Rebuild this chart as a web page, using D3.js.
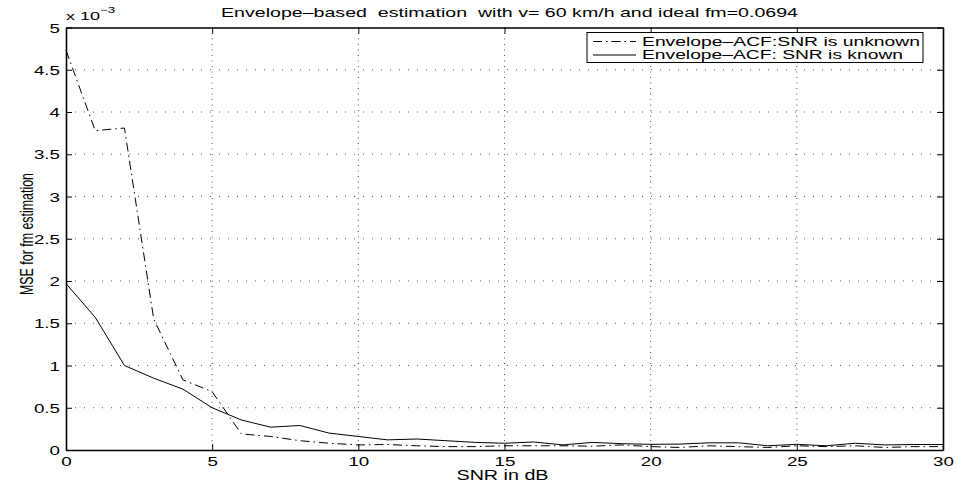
<!DOCTYPE html>
<html>
<head>
<meta charset="utf-8">
<script src="https://cdn.jsdelivr.net/npm/d3@7"></script>
<style>
  html, body { margin: 0; padding: 0; background: #fff; }
  svg { display: block; font-family: "Liberation Sans", Arial, Helvetica, sans-serif; }
  text { white-space: pre; }
</style>
</head>
<body>
<svg id="chart" width="959" height="487"></svg>
<script>
// SNR values (dB)
const snr = d3.range(0, 31);

// MSE of fm estimate (x 10^-3), SNR unknown
const mseUnknown = [4.73, 3.78, 3.81, 1.55, 0.83, 0.69, 0.19, 0.16, 0.11, 0.08, 0.06,
                    0.065, 0.05, 0.04, 0.04, 0.05, 0.05, 0.05, 0.045, 0.06, 0.04,
                    0.03, 0.05, 0.04, 0.03, 0.05, 0.04, 0.05, 0.03, 0.04, 0.04];

// MSE of fm estimate (x 10^-3), SNR known
const mseKnown = [1.97, 1.57, 1.00, 0.85, 0.72, 0.50, 0.355, 0.27, 0.29, 0.20, 0.16,
                  0.12, 0.13, 0.11, 0.09, 0.08, 0.095, 0.06, 0.09, 0.075, 0.067,
                  0.07, 0.085, 0.085, 0.05, 0.067, 0.05, 0.08, 0.06, 0.065, 0.065];

const xTicks = [0, 5, 10, 15, 20, 25, 30];
const yTicks = [0, 0.5, 1, 1.5, 2, 2.5, 3, 3.5, 4, 4.5, 5];

const titleText = "Envelope\u2013based  estimation  with v= 60 km/h and ideal fm=0.0694";
const xLabel = "SNR in dB";
const yLabel = "MSE for fm estimation";
const legendLabels = ["Envelope\u2013ACF:SNR is unknown", "Envelope\u2013ACF: SNR is known"];

const svg = d3.select("#chart");
const L = 66, R = 943, T = 27.5, B = 450;

const x = d3.scaleLinear().domain([0, 30]).range([L, R]);
const y = d3.scaleLinear().domain([0, 5]).range([B, T]);

// widen horizontal text to the wide glyph style of the figure
function widen(sel, k) {
  sel.each(function () {
    const w = this.getComputedTextLength();
    d3.select(this).attr("textLength", w * k).attr("lengthAdjust", "spacingAndGlyphs");
  });
}

// grid
const grid = svg.append("g");
grid.selectAll("line.vg").data(xTicks.slice(1, -1)).enter().append("line")
  .attr("x1", d => x(d)).attr("x2", d => x(d)).attr("y1", T).attr("y2", B)
  .attr("stroke", "#555").attr("stroke-width", 1).attr("stroke-dasharray", "1,4.5");
grid.selectAll("line.hg").data(yTicks.slice(1, -1)).enter().append("line")
  .attr("x1", L).attr("x2", R).attr("y1", d => y(d)).attr("y2", d => y(d))
  .attr("stroke", "#555").attr("stroke-width", 1).attr("stroke-dasharray", "1,8");

// data lines
const line = d3.line().x((d, i) => x(snr[i])).y(d => y(d));
svg.append("path").datum(mseUnknown).attr("d", line)
  .attr("fill", "none").attr("stroke", "#000").attr("stroke-width", 1)
  .attr("stroke-dasharray", "9,4,1.5,4");
svg.append("path").datum(mseKnown).attr("d", line)
  .attr("fill", "none").attr("stroke", "#000").attr("stroke-width", 1);

// axes (ticks inward on all four sides)
const tk = 6;
const axB = svg.append("g").attr("transform", `translate(0,${B})`)
  .call(d3.axisBottom(x).tickValues(xTicks).tickSizeInner(-tk).tickSizeOuter(0));
const axT = svg.append("g").attr("transform", `translate(0,${T})`)
  .call(d3.axisTop(x).tickValues(xTicks).tickSizeInner(-tk).tickSizeOuter(0).tickFormat(""));
const axL = svg.append("g").attr("transform", `translate(${L},0)`)
  .call(d3.axisLeft(y).tickValues(yTicks).tickSizeInner(-tk).tickSizeOuter(0).tickPadding(6)
        .tickFormat(d3.format("~g")));
const axR = svg.append("g").attr("transform", `translate(${R},0)`)
  .call(d3.axisRight(y).tickValues(yTicks).tickSizeInner(-tk).tickSizeOuter(0).tickFormat(""));

[axB, axT, axL, axR].forEach(a => {
  a.select(".domain").attr("stroke", "#000").attr("stroke-width", 1.6);
  a.selectAll(".tick line").attr("stroke", "#000").attr("stroke-width", 1);
  a.selectAll(".tick text").attr("fill", "#000")
    .style("font-family", "'Liberation Sans', Arial, sans-serif").style("font-size", "12.5px");
});
axB.selectAll(".tick text").attr("y", 15.5).attr("dy", 0);
axL.selectAll(".tick text").attr("dy", "0.36em");
widen(axB.selectAll(".tick text"), 1.5);
widen(axL.selectAll(".tick text"), 1.5);

// exponent label
const ex = svg.append("text").attr("x", 66).attr("y", 20).attr("font-size", 11.5).attr("fill", "#000");
ex.append("tspan").text("x 10").attr("textLength", 34).attr("lengthAdjust", "spacingAndGlyphs");
ex.append("tspan").attr("dy", -7).attr("font-size", 9).text("\u22123")
  .attr("textLength", 15).attr("lengthAdjust", "spacingAndGlyphs");

// title & axis labels
svg.append("text").attr("x", 509.5).attr("y", 17).attr("text-anchor", "middle")
  .attr("font-size", 13.5).attr("fill", "#000").text(titleText)
  .attr("textLength", 577).attr("lengthAdjust", "spacingAndGlyphs");
svg.append("text").attr("x", 502.5).attr("y", 480).attr("text-anchor", "middle")
  .attr("font-size", 14.5).attr("fill", "#000").text(xLabel)
  .attr("textLength", 92).attr("lengthAdjust", "spacingAndGlyphs");
svg.append("text").attr("transform", "translate(33,234) rotate(-90)")
  .attr("text-anchor", "middle").attr("font-size", 18).attr("fill", "#000").text(yLabel)
  .attr("textLength", 122).attr("lengthAdjust", "spacingAndGlyphs");

// legend
const lg = svg.append("g");
lg.append("rect").attr("x", 587).attr("y", 32.5).attr("width", 336).attr("height", 30)
  .attr("fill", "#fff").attr("stroke", "#000").attr("stroke-width", 1);
const sampleY = [41.5, 55];
const baseY = [45.5, 59.3];
const styles = ["9,4,1.5,4", null];
const lens = [278, 261];
sampleY.forEach((ry, i) => {
  lg.append("line").attr("x1", 593).attr("x2", 636).attr("y1", ry).attr("y2", ry)
    .attr("stroke", "#000").attr("stroke-width", 1)
    .attr("stroke-dasharray", styles[i]);
  lg.append("text").attr("x", 642).attr("y", baseY[i])
    .attr("font-size", 12.5).attr("fill", "#000").text(legendLabels[i])
    .attr("textLength", lens[i]).attr("lengthAdjust", "spacingAndGlyphs");
});
</script>
</body>
</html>
